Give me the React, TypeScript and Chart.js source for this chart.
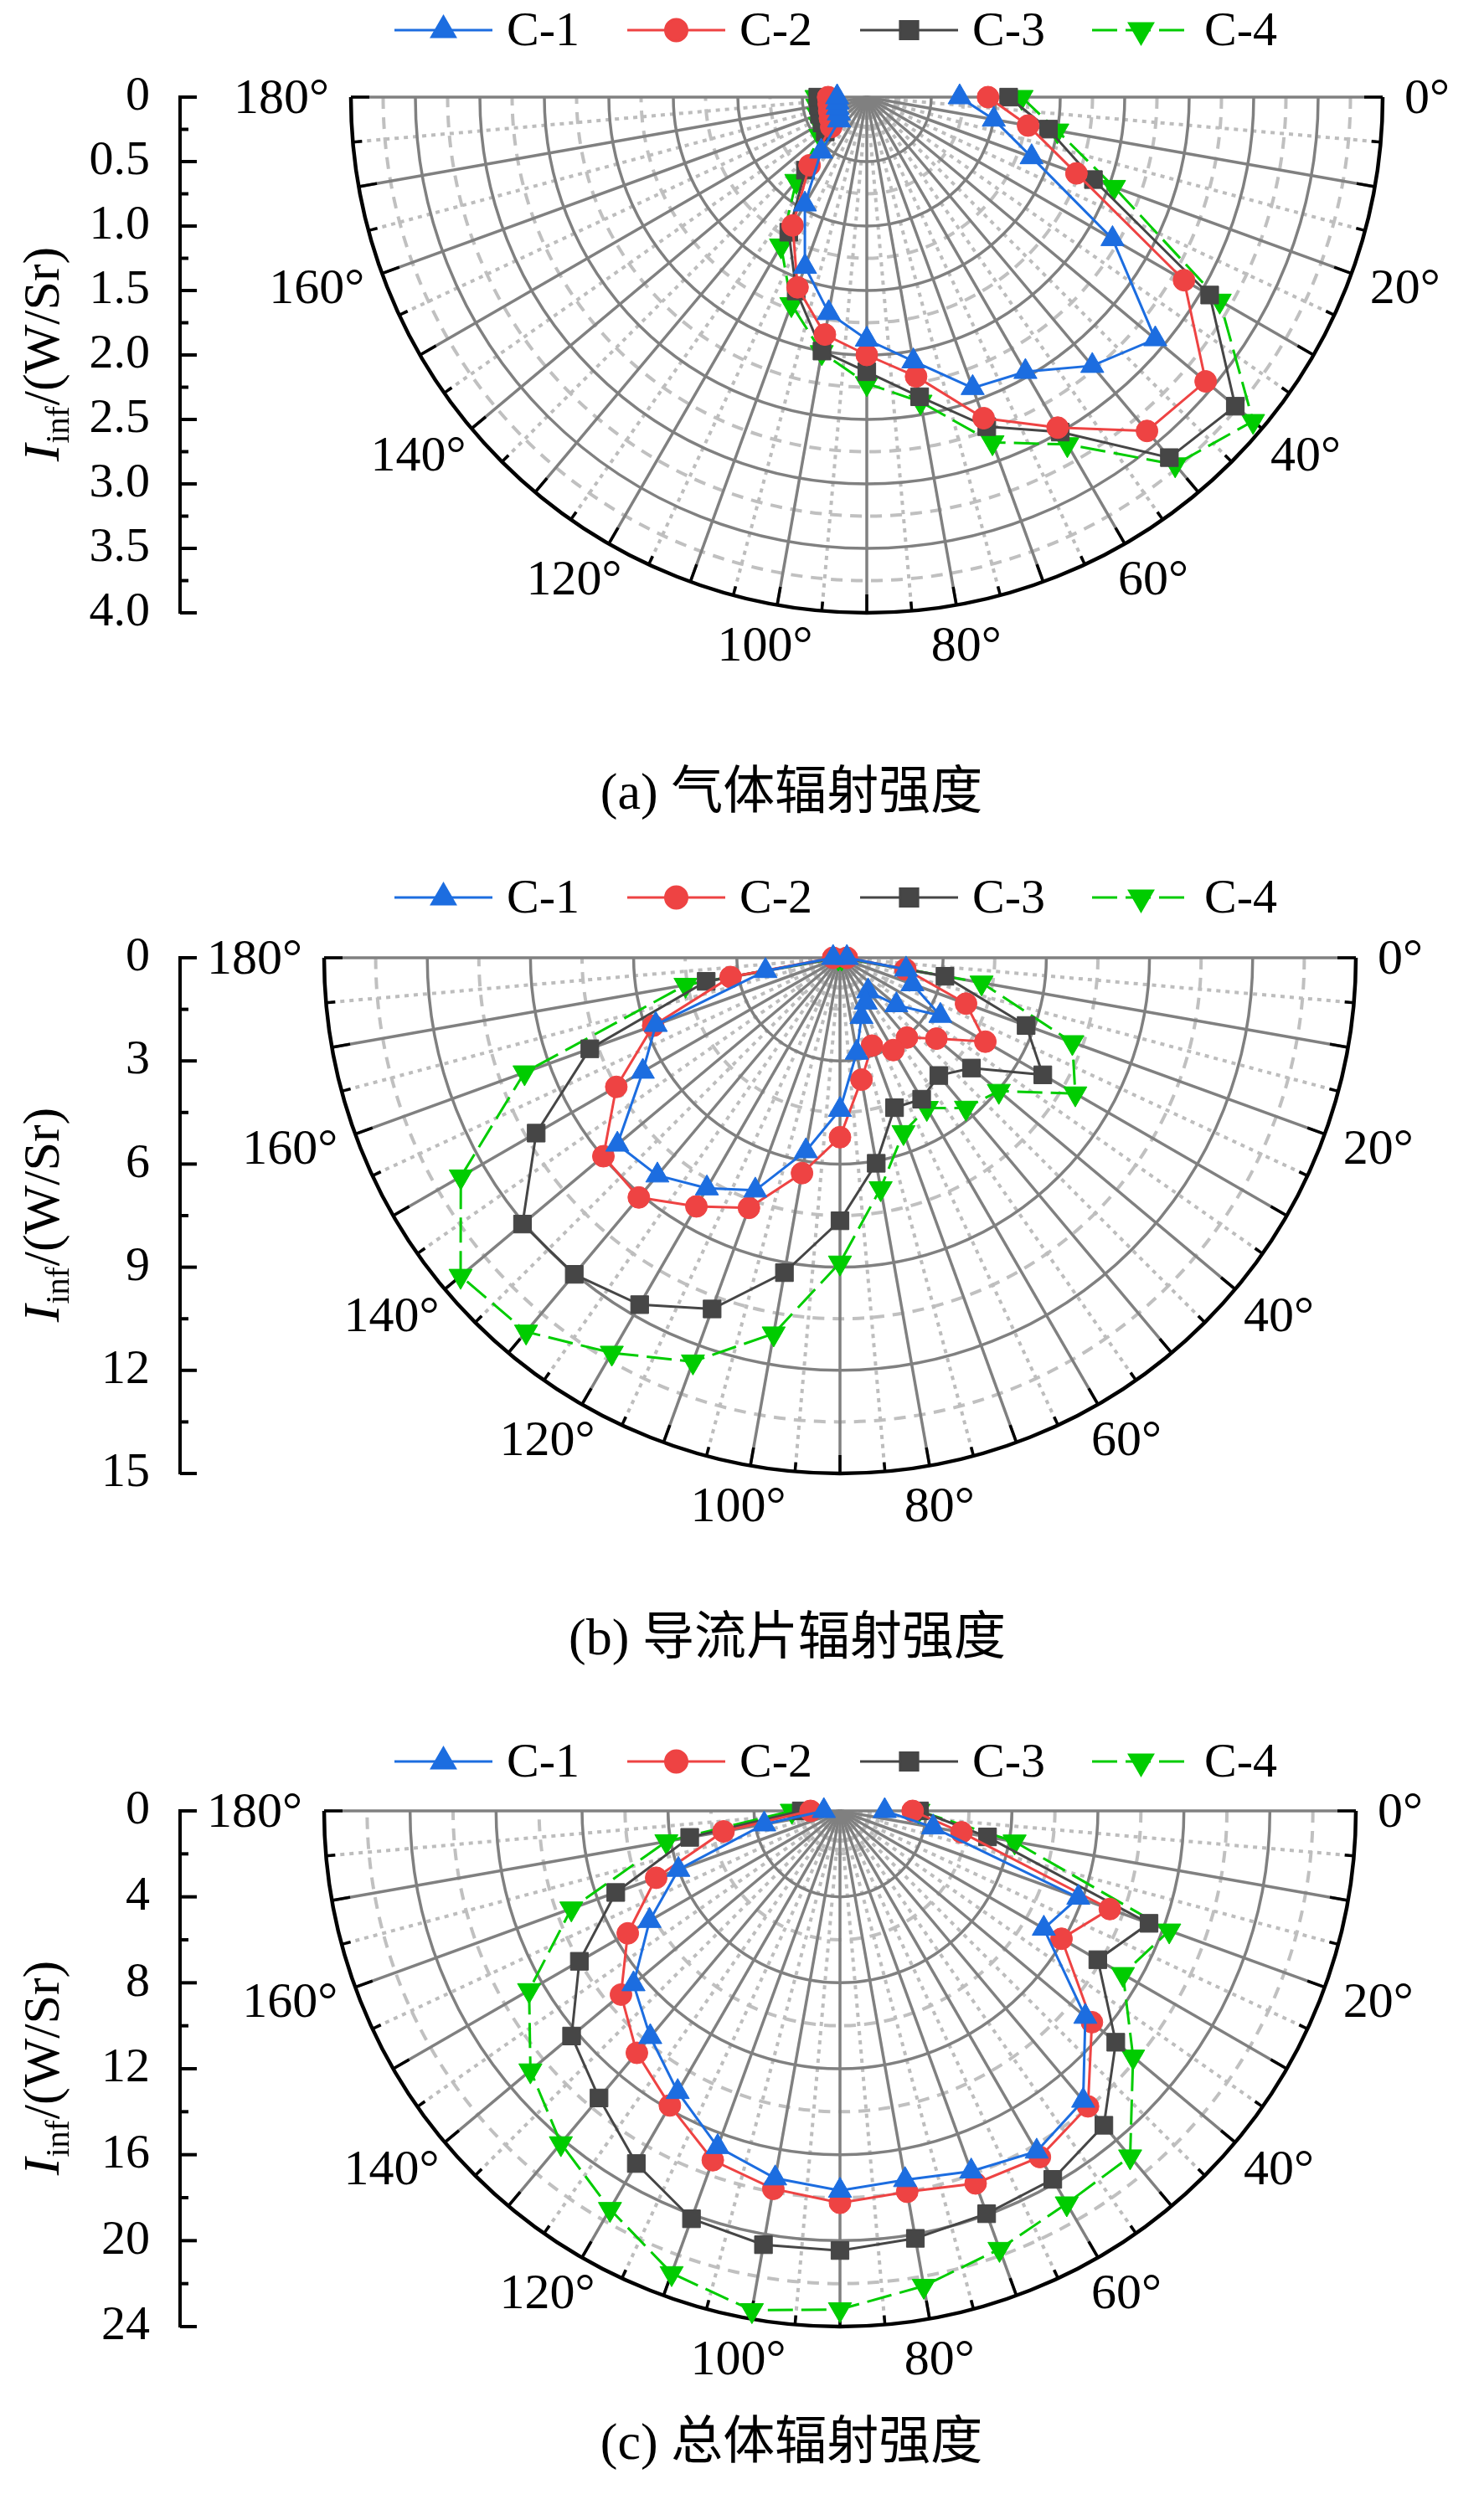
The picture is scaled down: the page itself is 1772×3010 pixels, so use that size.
import React, { useEffect, useRef } from 'react';
import { Chart, registerables } from 'chart.js';
import { drawPoint } from 'chart.js/helpers';

Chart.register(...registerables);

// ---- data (radius per angle) ----
const ANGLES = [0, 10, 20, 30, 40, 50, 60, 70, 80, 90, 100, 110, 120, 130, 140, 150, 160, 170, 180];
const SERIES = ['C-1', 'C-2', 'C-3', 'C-4'];

// (a) gas radiation intensity
const GAS_C1 = [0.72, 1.0, 1.36, 2.2, 2.92, 2.72, 2.46, 2.4, 2.08, 1.88, 1.7, 1.4, 0.96, 0.55, 0.28, 0.25, 0.24, 0.23, 0.23];
const GAS_C2 = [0.94, 1.27, 1.73, 2.84, 3.43, 3.38, 2.96, 2.65, 2.2, 2.0, 1.87, 1.57, 1.15, 0.69, 0.36, 0.33, 0.31, 0.3, 0.3];
const GAS_C3 = [1.1, 1.43, 1.87, 3.07, 3.73, 3.65, 3.0, 2.72, 2.36, 2.13, 2.0, 1.6, 1.21, 0.74, 0.42, 0.4, 0.39, 0.38, 0.38];
const GAS_C4 = [1.2, 1.5, 2.04, 3.16, 3.91, 3.72, 3.11, 2.85, 2.4, 2.22, 2.01, 1.71, 1.33, 0.85, 0.47, 0.42, 0.4, 0.39, 0.39];

// (b) guide vane radiation intensity
const VANE_C1 = [0.2, 1.95, 2.24, 3.37, 2.14, 1.27, 1.5, 1.83, 2.8, 4.42, 5.71, 7.2, 7.74, 8.26, 8.45, 6.62, 5.7, 2.2, 0.2];
const VANE_C2 = [0.2, 1.93, 3.9, 4.88, 3.66, 3.03, 3.1, 2.72, 3.6, 5.22, 6.36, 7.74, 8.35, 9.1, 8.98, 7.51, 5.78, 3.23, 0.2];
const VANE_C3 = [0.1, 3.1, 5.76, 6.81, 4.99, 4.47, 4.75, 4.64, 6.07, 7.65, 9.3, 10.87, 11.65, 12.02, 12.05, 10.2, 7.74, 3.95, 0.1];
const VANE_C4 = [0.05, 4.18, 7.19, 7.9, 6.03, 5.7, 5.05, 5.4, 6.81, 8.87, 11.1, 12.5, 13.27, 14.2, 14.4, 12.73, 9.76, 4.56, 0.05];

// (c) total radiation intensity
const TOTAL_C1 = [2.08, 4.4, 11.8, 10.95, 14.9, 17.6, 18.3, 17.85, 17.44, 17.67, 17.36, 16.64, 15.1, 13.73, 12.54, 10.23, 8.0, 3.58, 0.75];
const TOTAL_C2 = [3.38, 5.74, 13.36, 11.9, 15.3, 17.95, 18.6, 18.45, 18.0, 18.24, 17.86, 17.3, 15.83, 14.7, 13.3, 11.4, 9.1, 5.5, 1.37];
const TOTAL_C3 = [3.7, 6.97, 15.3, 13.85, 16.75, 19.1, 19.8, 19.95, 20.2, 20.46, 20.5, 20.2, 18.95, 17.44, 16.3, 14.0, 11.1, 7.1, 1.8];
const TOTAL_C4 = [3.65, 8.25, 16.3, 15.2, 17.8, 21.0, 21.1, 21.7, 22.45, 23.2, 23.6, 22.9, 21.4, 20.2, 18.8, 16.7, 13.3, 8.2, 2.24];

const GAS_TICKS = ['0', '0.5', '1.0', '1.5', '2.0', '2.5', '3.0', '3.5', '4.0'];
const VANE_TICKS = ['0', '3', '6', '9', '12', '15'];
const TOTAL_TICKS = ['0', '4', '8', '12', '16', '20', '24'];
const ANGLE_LABELS = [0, 20, 40, 60, 80, 100, 120, 140, 160, 180];

const CAPTIONS = ['(a) 气体辐射强度', '(b) 导流片辐射强度', '(c) 总体辐射强度'];

// ---- layout / style ----
const W = 1772;
const AXIS_X = 215;
const RIGHT_PAD = 40;
const R_PX = 616;
const FONT = "'Liberation Serif', 'DejaVu Serif', 'Times New Roman', serif";
const CJK_FONT = "'Liberation Serif', 'DejaVu Serif', 'Noto Sans CJK SC', serif";
const LEGEND_X = [471, 749, 1027, 1304];

const STYLES = [
  { color: '#1c6de0', point: 'triangle', rot: 0, r: 16, dash: [] as number[] },
  { color: '#ee4343', point: 'circle', rot: 0, r: 13, dash: [] as number[] },
  { color: '#464646', point: 'rect', rot: 0, r: 15, dash: [] as number[] },
  { color: '#00cc00', point: 'triangle', rot: 180, r: 16, dash: [30, 10] },
];

Chart.defaults.font.family = FONT;

type PanelProps = {
  top: number; height: number; cx: number; cy: number; legendY: number;
  rMax: number; step: number; tickLabels: string[]; values: number[][];
};

function PolarPanel({ top, height, cx, cy, legendY, rMax, step, tickLabels, values }: PanelProps) {
  const ref = useRef<HTMLCanvasElement | null>(null);

  useEffect(() => {
    if (!ref.current) return;
    const k = R_PX / rMax;
    const nMajor = Math.round(rMax / step);

    const datasets = values.map((vals, i) => {
      const st = STYLES[i];
      return {
        label: SERIES[i],
        data: ANGLES.map((a, j) => {
          const t = (a * Math.PI) / 180;
          return { x: vals[j] * Math.cos(t), y: -vals[j] * Math.sin(t) };
        }),
        showLine: true,
        borderColor: st.color,
        backgroundColor: st.color,
        borderWidth: 3,
        borderDash: st.dash,
        pointStyle: st.point,
        pointRotation: st.rot,
        pointRadius: st.r,
        pointHoverRadius: st.r,
        pointBorderWidth: 1,
        pointBorderColor: st.color,
        pointBackgroundColor: st.color,
        tension: 0,
        clip: false,
      };
    });

    const frame = {
      id: 'polarFrame',
      beforeDatasetsDraw(chart: any) {
        const ctx = chart.ctx as CanvasRenderingContext2D;
        const xs = chart.scales.x, ys = chart.scales.y;
        const ox = xs.getPixelForValue(0), oy = ys.getPixelForValue(0);
        const rad = (v: number) => ys.getPixelForValue(-v) - oy;
        const R = rad(rMax);
        ctx.save();
        ctx.lineCap = 'butt';

        // minor circles (dashed)
        ctx.strokeStyle = '#c0c0c0';
        ctx.lineWidth = 4;
        ctx.setLineDash([14, 10]);
        for (let i = 0; i < nMajor; i++) {
          ctx.beginPath();
          ctx.arc(ox, oy, rad((i + 0.5) * step), 0, Math.PI);
          ctx.stroke();
        }
        // 5 degree spokes (dotted)
        ctx.strokeStyle = '#bdbdbd';
        ctx.setLineDash([5, 6]);
        for (let a = 5; a < 180; a += 10) {
          const t = (a * Math.PI) / 180;
          ctx.beginPath();
          ctx.moveTo(ox, oy);
          ctx.lineTo(ox + R * Math.cos(t), oy + R * Math.sin(t));
          ctx.stroke();
        }
        // 10 degree spokes (solid)
        ctx.setLineDash([]);
        ctx.strokeStyle = '#808080';
        ctx.lineWidth = 3.5;
        for (let a = 0; a <= 180; a += 10) {
          const t = (a * Math.PI) / 180;
          ctx.beginPath();
          ctx.moveTo(ox, oy);
          ctx.lineTo(ox + R * Math.cos(t), oy + R * Math.sin(t));
          ctx.stroke();
        }
        // major circles
        for (let i = 1; i < nMajor; i++) {
          ctx.beginPath();
          ctx.arc(ox, oy, rad(i * step), 0, Math.PI);
          ctx.stroke();
        }
        // outer arc + ticks
        ctx.strokeStyle = '#000';
        ctx.lineWidth = 4.5;
        ctx.beginPath();
        ctx.arc(ox, oy, R, 0, Math.PI);
        ctx.stroke();
        ctx.lineWidth = 3.5;
        for (let a = 0; a <= 180; a += 5) {
          const t = (a * Math.PI) / 180;
          const len = a % 10 === 0 ? 22 : 11;
          ctx.beginPath();
          ctx.moveTo(ox + R * Math.cos(t), oy + R * Math.sin(t));
          ctx.lineTo(ox + (R - len) * Math.cos(t), oy + (R - len) * Math.sin(t));
          ctx.stroke();
        }
        // radial axis ticks (inward)
        const ax = chart.chartArea.left;
        ctx.lineWidth = 4;
        for (let i = 0; i <= nMajor * 2; i++) {
          const y = ys.getPixelForValue(-(i * step) / 2);
          const len = i % 2 === 0 ? 20 : 10;
          ctx.beginPath();
          ctx.moveTo(ax, y);
          ctx.lineTo(ax + len, y);
          ctx.stroke();
        }
        // angle labels
        ctx.fillStyle = '#000';
        ctx.font = `60px ${FONT}`;
        ctx.textAlign = 'center';
        ctx.textBaseline = 'middle';
        for (const a of ANGLE_LABELS) {
          const t = (a * Math.PI) / 180;
          const txt = `${a}°`;
          const hw = ctx.measureText(txt).width / 2;
          const c = Math.cos(t), s = Math.sin(t);
          const px = ox + (R + 26) * c + hw * c;
          const py = oy + (R + 26) * s + 22 * s;
          ctx.fillText(txt, px, py + 3);
        }
        ctx.restore();
      },
      afterDraw(chart: any) {
        const ctx = chart.ctx as CanvasRenderingContext2D;
        ctx.save();
        // legend
        chart.data.datasets.forEach((ds: any, i: number) => {
          const x0 = LEGEND_X[i];
          ctx.strokeStyle = ds.borderColor;
          ctx.fillStyle = ds.borderColor;
          ctx.lineWidth = 3;
          ctx.setLineDash(ds.borderDash || []);
          ctx.beginPath();
          ctx.moveTo(x0, legendY);
          ctx.lineTo(x0 + 117, legendY);
          ctx.stroke();
          ctx.setLineDash([]);
          drawPoint(ctx, { pointStyle: ds.pointStyle, rotation: ds.pointRotation, radius: ds.pointRadius, borderWidth: 1 } as any, x0 + 58.5, legendY);
          ctx.fillStyle = '#000';
          ctx.font = `58px ${FONT}`;
          ctx.textAlign = 'left';
          ctx.textBaseline = 'middle';
          ctx.fillText(ds.label, x0 + 134, legendY + 3);
        });
        // radial axis title: I_inf/(W/Sr)
        const { top: t, bottom: b } = chart.chartArea;
        ctx.translate(70, (t + b) / 2);
        ctx.rotate(-Math.PI / 2);
        ctx.fillStyle = '#000';
        ctx.textBaseline = 'alphabetic';
        ctx.textAlign = 'left';
        ctx.font = `italic 62px ${FONT}`;
        const wI = ctx.measureText('I').width;
        ctx.font = `40px ${FONT}`;
        const wS = ctx.measureText('inf').width;
        ctx.font = `62px ${FONT}`;
        const wR = ctx.measureText('/(W/Sr)').width;
        const x = -(wI + wS + wR) / 2;
        ctx.font = `italic 62px ${FONT}`;
        ctx.fillText('I', x, 0);
        ctx.font = `40px ${FONT}`;
        ctx.fillText('inf', x + wI + 1, 12);
        ctx.font = `62px ${FONT}`;
        ctx.fillText('/(W/Sr)', x + wI + wS + 2, 0);
        ctx.restore();
      },
    };

    const chart = new Chart(ref.current, {
      type: 'scatter',
      data: { datasets: datasets as any },
      options: {
        responsive: false,
        animation: false,
        devicePixelRatio: 1,
        events: [],
        layout: { padding: { left: 0, right: RIGHT_PAD, top: cy, bottom: height - cy - R_PX } },
        plugins: { legend: { display: false }, tooltip: { enabled: false } },
        scales: {
          x: {
            type: 'linear',
            display: false,
            min: -(cx - AXIS_X) / k,
            max: (W - RIGHT_PAD - cx) / k,
          },
          y: {
            type: 'linear',
            min: -rMax,
            max: 0,
            afterFit: (scale: any) => { scale.width = AXIS_X; },
            ticks: {
              stepSize: step,
              autoSkip: false,
              padding: 36,
              color: '#000',
              font: { family: FONT, size: 58 },
              callback: (v: any) => tickLabels[Math.round(Math.abs(Number(v)) / step)] ?? '',
            },
            grid: { display: true, drawOnChartArea: false, drawTicks: false },
            border: { display: true, color: '#000', width: 4 },
          },
        },
      } as any,
      plugins: [frame],
    });
    return () => chart.destroy();
  }, [top, height, cx, cy, legendY, rMax, step, tickLabels, values]);

  return (
    <canvas
      ref={ref}
      width={W}
      height={height}
      style={{ position: 'absolute', left: 0, top, width: W, height }}
    />
  );
}

function Caption({ text, x, y }: { text: string; x: number; y: number }) {
  return (
    <div
      style={{
        position: 'absolute', left: x, top: y, transform: 'translate(-50%, -50%)',
        fontFamily: CJK_FONT, fontSize: 62, lineHeight: '64px', whiteSpace: 'nowrap', color: '#000',
      }}
    >
      {text}
    </div>
  );
}

export default function App() {
  return (
    <div style={{ position: 'absolute', left: 0, top: 0, width: W, height: 3010, background: '#fff', overflow: 'hidden' }}>
      <PolarPanel top={0} height={1000} cx={1035} cy={116} legendY={36} rMax={4} step={0.5}
        tickLabels={GAS_TICKS} values={[GAS_C1, GAS_C2, GAS_C3, GAS_C4]} />
      <Caption text={CAPTIONS[0]} x={945} y={945} />
      <PolarPanel top={1000} height={1000} cx={1003} cy={144} legendY={72} rMax={15} step={3}
        tickLabels={VANE_TICKS} values={[VANE_C1, VANE_C2, VANE_C3, VANE_C4]} />
      <Caption text={CAPTIONS[1]} x={940} y={1955} />
      <PolarPanel top={2000} height={1010} cx={1003} cy={163} legendY={104} rMax={24} step={4}
        tickLabels={TOTAL_TICKS} values={[TOTAL_C1, TOTAL_C2, TOTAL_C3, TOTAL_C4]} />
      <Caption text={CAPTIONS[2]} x={945} y={2916} />
    </div>
  );
}
